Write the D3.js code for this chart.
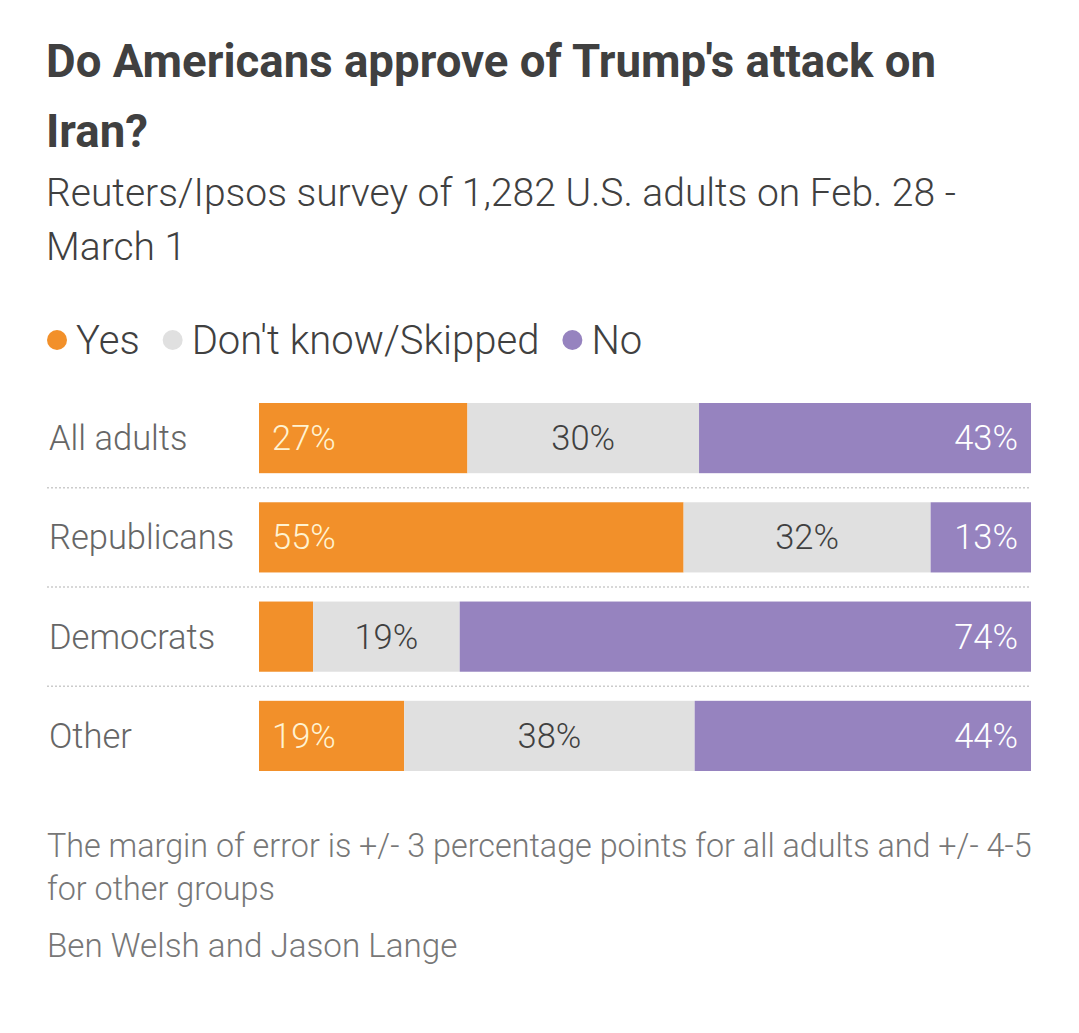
<!DOCTYPE html>
<html lang="en-US">
<head>
<meta charset="utf-8">
<script src="https://d3js.org/d3.v7.min.js"></script>
<style>
body { margin: 0; background: #fff; }
svg { display: block; }
text { font-family: Roboto, 'Open Sans', sans-serif; }
.title { font-size: 45.6px; font-weight: 700; fill: #404040; }
.subtitle { font-size: 39px; font-weight: 300; fill: #404040; }
.legend text { font-size: 40px; font-weight: 300; fill: #404040; }
.cat { font-size: 34.5px; font-weight: 300; fill: #666; }
.val { font-size: 34.5px; font-weight: 300; }
.note { font-size: 32.3px; font-weight: 300; fill: #777; }
.credit { font-size: 33.2px; }
.sep { stroke: #ccc; stroke-width: 1.5; stroke-dasharray: 2 2; }
</style>
</head>
<body>
<svg id="chart" width="1079" height="1033"></svg>
<script>
const titleLines = ["Do Americans approve of Trump's attack on", "Iran?"];
const subtitleLines = ["Reuters/Ipsos survey of 1,282 U.S. adults on Feb. 28 -", "March 1"];
const noteLines = ["The margin of error is +/- 3 percentage points for all adults and +/- 4-5", "for other groups"];
const credit = "Ben Welsh and Jason Lange";

const groups = ['All adults', 'Republicans', 'Democrats', 'Other'];
const answers = ['Yes', "Don't know/Skipped", 'No'];
const yesVals = [27, 55, 7, 19];
const dkVals = [30, 32, 19, 38];
const noVals = [43, 13, 74, 44];
const colors = ['#f2902a', '#e0e0e0', '#9683bf'];
const labelColors = ['#fff3d2', '#404040', '#ffffff'];

const rows = groups.map((g, i) => {
  const vals = [yesVals[i], dkVals[i], noVals[i]];
  const total = d3.sum(vals);
  let acc = 0;
  const segs = vals.map((v, j) => {
    const s = { key: answers[j], j, v, x0: acc / total * 100, x1: (acc + v) / total * 100 };
    acc += v;
    return s;
  });
  return { group: g, segs };
});

const svg = d3.select('#chart');

svg.selectAll('text.title').data(titleLines).join('text')
  .attr('class', 'title').attr('x', 46).attr('y', (d, i) => 77 + i * 70).text(d => d);

svg.selectAll('text.subtitle').data(subtitleLines).join('text')
  .attr('class', 'subtitle').attr('x', 46).attr('y', (d, i) => 206 + i * 54).text(d => d);

// legend
const legend = svg.append('g').attr('class', 'legend');
let lx = 47;
answers.forEach((a, i) => {
  const g = legend.append('g').attr('transform', `translate(${lx},340)`);
  g.append('circle').attr('cx', 10).attr('cy', 0).attr('r', 10).attr('fill', colors[i]);
  const t = g.append('text').attr('x', 29).attr('y', 14).text(a);
  lx += 29 + t.node().getComputedTextLength() + 23;
});

const x = d3.scaleLinear().domain([0, 100]).range([259, 1031]);
const y = d3.scaleBand().domain(groups).range([403, 771]).paddingInner(29 / 99).paddingOuter(0);
const step = y.step();

// separators
svg.selectAll('line.sep').data(groups.slice(1)).join('line')
  .attr('class', 'sep')
  .attr('x1', 47).attr('x2', 1031)
  .attr('y1', d => y(d) - (step - y.bandwidth()) / 2)
  .attr('y2', d => y(d) - (step - y.bandwidth()) / 2);

const rowG = svg.selectAll('g.row').data(rows).join('g')
  .attr('class', 'row')
  .attr('transform', d => `translate(0,${y(d.group)})`);

rowG.append('text').attr('class', 'cat')
  .attr('x', 49).attr('y', y.bandwidth() / 2 + 12)
  .text(d => d.group);

rowG.selectAll('rect').data(d => d.segs).join('rect')
  .attr('x', d => x(d.x0)).attr('width', d => x(d.x1) - x(d.x0))
  .attr('y', 0).attr('height', y.bandwidth())
  .attr('fill', d => colors[d.j]);

rowG.selectAll('text.val').data(d => d.segs.filter(s => s.v >= 10)).join('text')
  .attr('class', 'val')
  .attr('y', y.bandwidth() / 2 + 12)
  .attr('x', d => d.j === 0 ? x(d.x0) + 13 : d.j === 2 ? x(d.x1) - 13 : (x(d.x0) + x(d.x1)) / 2)
  .attr('text-anchor', d => d.j === 0 ? 'start' : d.j === 2 ? 'end' : 'middle')
  .attr('fill', d => labelColors[d.j])
  .text(d => d.v + '%');

svg.selectAll('text.note').data(noteLines).join('text')
  .attr('class', 'note').attr('x', 47).attr('y', (d, i) => 857 + i * 43).text(d => d);

svg.append('text').attr('class', 'note credit').attr('x', 47).attr('y', 957).text(credit);
</script>
</body>
</html>
